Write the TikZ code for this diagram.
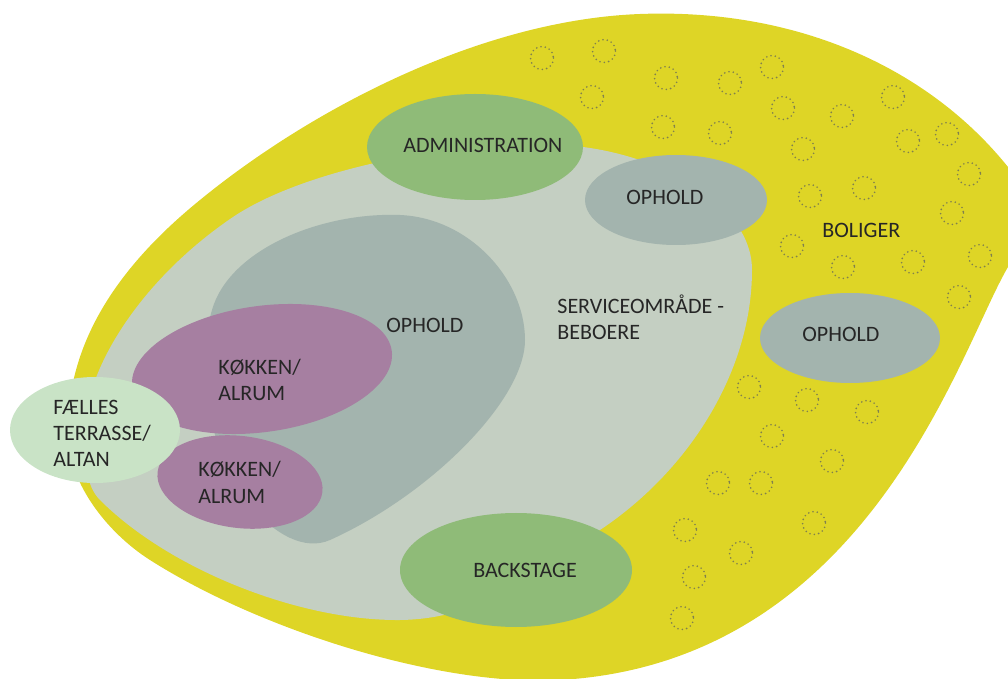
\documentclass[tikz,border=0pt]{standalone}
\usepackage{fontspec}
\setmainfont{Carlito}

\definecolor{boliggul}{HTML}{DED526}
\definecolor{servicegraa}{HTML}{C4CFC2}
\definecolor{opholdgraa}{HTML}{A3B4AE}
\definecolor{adminsgroen}{HTML}{8FBB78}
\definecolor{koekkenlilla}{HTML}{A67FA1}
\definecolor{terrassegroen}{HTML}{C9E3C6}
\definecolor{ringprik}{RGB}{128,128,78}

\tikzset{
  dotring/.style={draw=ringprik, line width=0.9pt, line cap=round, dash pattern=on 0pt off 2.2pt},
  zonetext/.style={inner sep=0pt, anchor=base west, align=left, text=black!85,
    font=\fontsize{11}{13.25}\selectfont},
}

\begin{document}
\begin{tikzpicture}[x=0.5pt,y=-0.5pt]
\useasboundingbox (0,0) rectangle (1008,679);
\clip (0,0) rectangle (1008,679);

% Filling area BOLIGER
\fill[boliggul] (68,430) .. controls (68,340) and (120,265) .. (200,200)
  .. controls (310,110) and (480,20) .. (640,14)
  .. controls (800,8) and (930,70) .. (1008,167)
  .. controls (1031,196) and (1030,230) .. (1008,267)
  .. controls (960,348) and (870,662) .. (560,680)
  .. controls (440,687) and (260,630) .. (150,560)
  .. controls (106,532) and (66,480) .. (68,430) -- cycle;%

% Marking dwellings by dotted circles
\foreach \cx/\cy in {542/58, 604/51, 666/78, 730/83, 772/67, 592/97, 663/127, 720/133,
    783/108, 842/116, 893/97, 803/149, 908/141, 947/134, 969/174, 810/196, 864/188,
    952/213, 792/246, 843/267, 913/262, 980/256, 959/297, 749/387, 807/400, 867/412,
    772/436, 832/461, 718/483, 761/483, 685/530, 814/523, 741/553, 694/577, 682/618}
  \draw[dotring] (\cx,\cy) circle [radius=11.5];%

% Filling area SERVICEOMRAADE
\fill[servicegraa] (85,430) .. controls (85,370) and (140,280) .. (233,217)
  .. controls (303,170) and (450,140) .. (560,145)
  .. controls (650,149) and (752,200) .. (752,270)
  .. controls (752,370) and (690,470) .. (600,530)
  .. controls (530,577) and (480,619) .. (400,620)
  .. controls (300,621) and (170,570) .. (100,500)
  .. controls (85,485) and (85,460) .. (85,430) -- cycle;%

% Filling area OPHOLD (inner)
\fill[opholdgraa] (212,310) .. controls (229,250) and (320,212) .. (400,215)
  .. controls (470,218) and (525,280) .. (525,340)
  .. controls (525,400) and (430,495) .. (330,540)
  .. controls (305,551) and (275,535) .. (250,505)
  .. controls (210,457) and (195,370) .. (212,310) -- cycle;%

% Filling ellipses
\fill[adminsgroen] (475,147) ellipse [x radius=108, y radius=53];%
\fill[opholdgraa] (676,200) ellipse [x radius=91, y radius=45];%
\fill[opholdgraa] (850,338) ellipse [x radius=90, y radius=45];%
\fill[adminsgroen] (516,570) ellipse [x radius=116, y radius=57];%
\fill[koekkenlilla, rotate around={8:(262,369)}] (262,369) ellipse [x radius=131, y radius=63];%
\fill[koekkenlilla, rotate around={-7:(240,482)}] (240,482) ellipse [x radius=83, y radius=46];%
\fill[terrassegroen] (95,430) ellipse [x radius=85, y radius=53];%

% Labels (base = last line)
\node[zonetext] (tAdmin) at (403,153) {ADMINISTRATION};%
\node[zonetext] (tOpholdNord) at (626,205) {OPHOLD};%
\node[zonetext] (tBoliger) at (822,238) {BOLIGER};%
\node[zonetext] (tOpholdInde) at (386,333) {OPHOLD};%
\node[zonetext] (tService) at (557,340) {SERVICEOMRÅDE -\\BEBOERE};%
\node[zonetext] (tOpholdOst) at (802,342) {OPHOLD};%
\node[zonetext] (tKoekkenA) at (218,401) {KØKKEN/\\ALRUM};%
\node[zonetext] (tTerrasse) at (53,467) {FÆLLES\\TERRASSE/\\ALTAN};%
\node[zonetext] (tKoekkenB) at (198,503) {KØKKEN/\\ALRUM};%
\node[zonetext] (tBackstage) at (473,577) {BACKSTAGE};%
\end{tikzpicture}
\end{document}
